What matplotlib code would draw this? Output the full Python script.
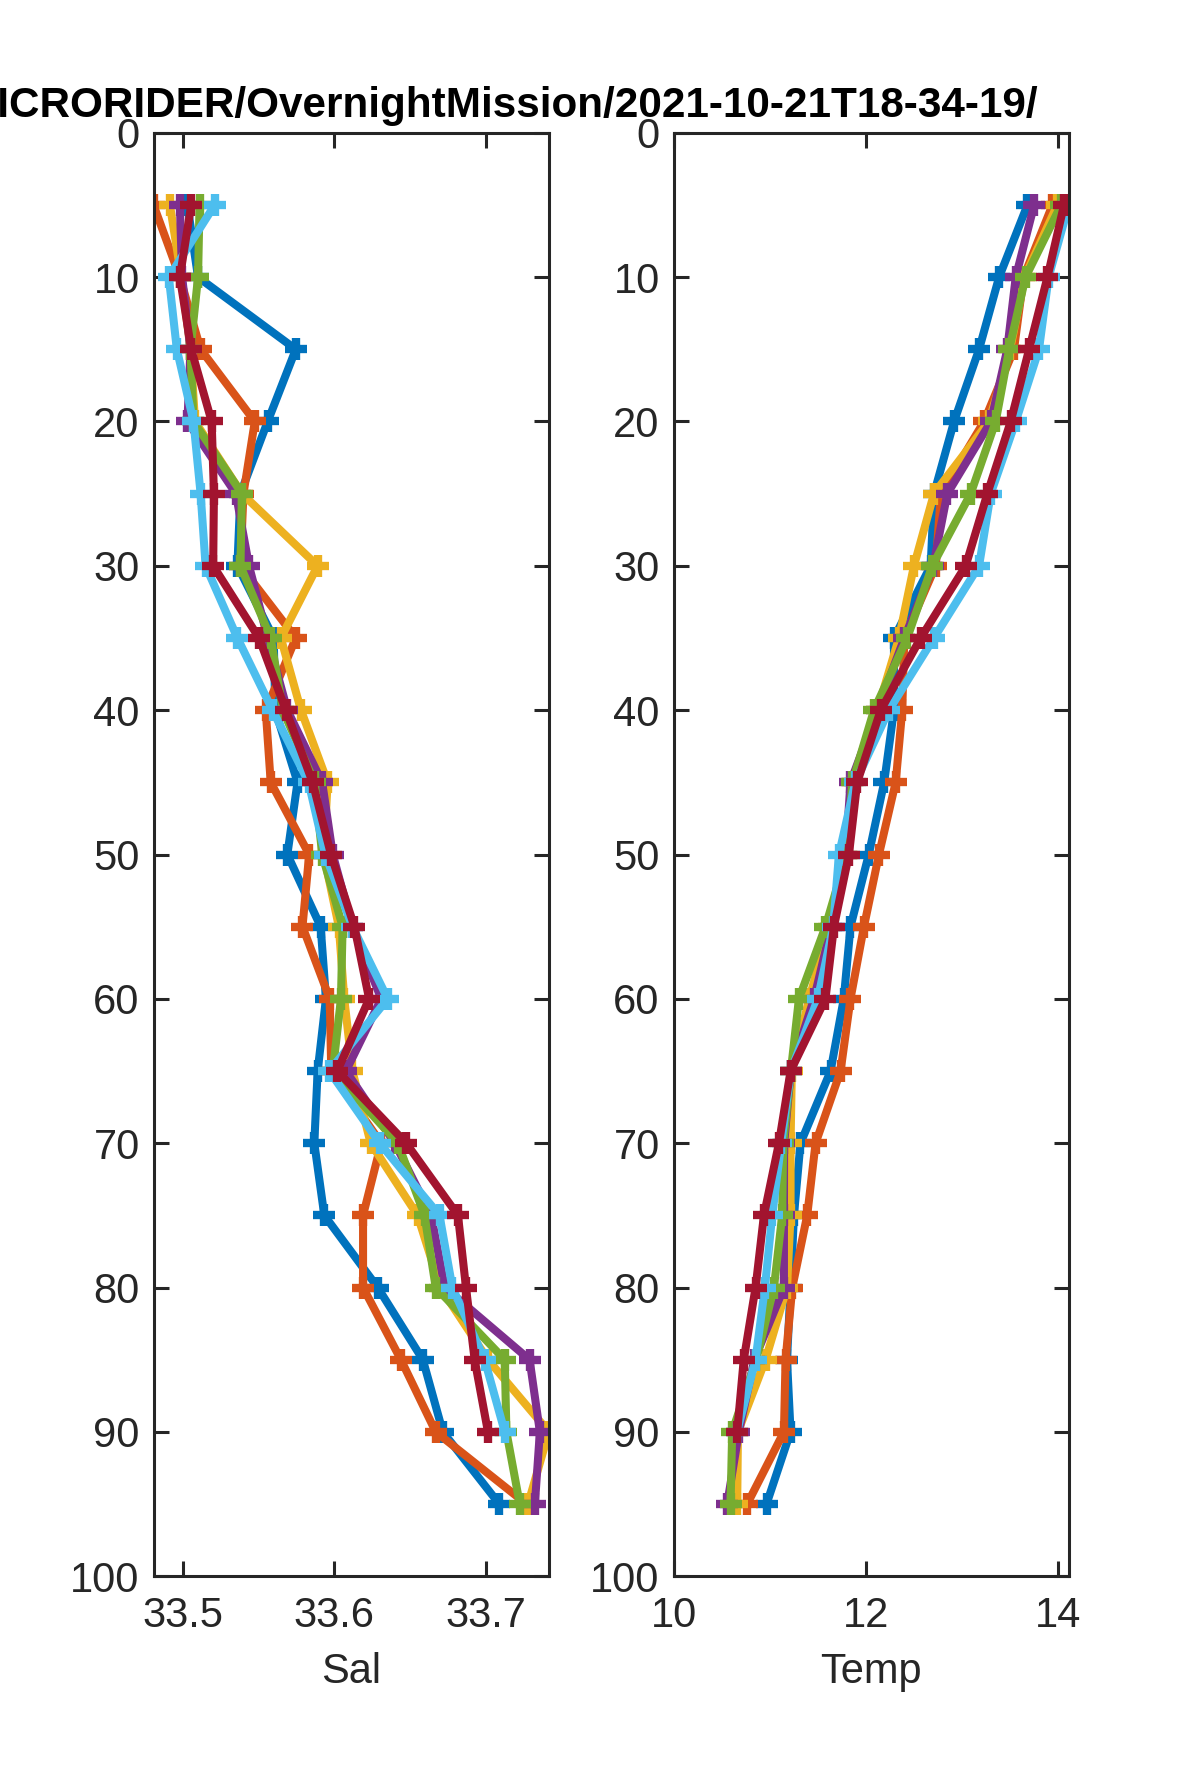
import numpy as np
import matplotlib
matplotlib.use("Agg")
import matplotlib.pyplot as plt

plt.rcParams['font.family'] = ['Liberation Sans', 'DejaVu Sans']

nan = np.nan
depth = [5, 10, 15, 20, 25, 30, 35, 40, 45, 50, 55, 60, 65, 70, 75, 80, 85, 90, 95]

# Salinity profiles (7 casts)
sal_1 = [33.503, 33.510, 33.5746, 33.556, 33.538, 33.536, 33.560, 33.561, 33.5757, 33.569, 33.591, 33.5945, 33.589, 33.5868, 33.5934, 33.6287, 33.6585, 33.6717, 33.709]
sal_2 = [33.4806, 33.498, 33.5117, 33.5475, 33.540, 33.538, 33.5746, 33.5547, 33.558, 33.5834, 33.579, 33.597, 33.598, 33.631, 33.619, 33.619, 33.644, 33.667, 33.727]
sal_3 = [33.4914, 33.499, 33.505, 33.508, 33.539, 33.589, 33.5647, 33.578, 33.5956, 33.593, 33.603, 33.6066, 33.612, 33.624, 33.655, 33.670, 33.7015, 33.7417, 33.728]
sal_4 = [33.498, 33.4995, 33.505, 33.503, 33.535, 33.5437, 33.556, 33.569, 33.592, 33.599, 33.612, 33.631, 33.6077, 33.640, 33.664, 33.673, 33.729, 33.7358, 33.7325]
sal_5 = [33.511, 33.510, 33.505, 33.507, 33.539, 33.538, 33.558, 33.566, 33.587, 33.592, 33.6055, 33.6044, 33.599, 33.642, 33.6596, 33.667, 33.7126, 33.7137, 33.7225]
sal_6 = [33.521, 33.4907, 33.496, 33.507, 33.5117, 33.515, 33.536, 33.5592, 33.583, 33.594, 33.612, 33.6353, 33.5967, 33.630, 33.6695, 33.678, 33.6993, 33.7126, nan]
sal_7 = [33.5055, 33.498, 33.5055, 33.519, 33.5205, 33.520, 33.5503, 33.568, 33.5857, 33.5978, 33.6133, 33.623, 33.602, 33.6475, 33.6817, 33.687, 33.6927, 33.7015, nan]

# Temperature profiles (7 casts)
temp_1 = [13.68, 13.385, 13.177, 12.917, 12.708, 12.674, 12.292, 12.292, 12.19, 12.03, 11.84, 11.77, 11.633, 11.32, 11.252, 11.217, 11.18, 11.217, 10.967]
temp_2 = [13.94, 13.64, 13.54, 13.229, 12.78, 12.726, 12.40, 12.378, 12.31, 12.136, 11.98, 11.84, 11.737, 11.477, 11.39, 11.235, 11.165, 11.148, 10.766]
temp_3 = [13.99, 13.65, 13.50, 13.28, 12.708, 12.50, 12.344, 12.12, 11.87, 11.80, 11.62, 11.41, 11.23, 11.217, 11.217, 11.18, 10.957, 10.67, 10.662]
temp_4 = [13.75, 13.558, 13.47, 13.30, 12.847, 12.70, 12.40, 12.12, 11.84, 11.79, 11.64, 11.46, 11.22, 11.15, 11.148, 11.148, 10.84, 10.68, 10.558]
temp_5 = [14.03, 13.66, 13.49, 13.35, 13.09, 12.69, 12.43, 12.084, 11.86, 11.80, 11.58, 11.304, 11.22, 11.14, 11.13, 11.044, 10.86, 10.61, 10.593]
temp_6 = [14.11, 13.90, 13.80, 13.558, 13.298, 13.177, 12.708, 12.24, 11.89, 11.72, 11.66, 11.50, 11.22, 11.12, 11.026, 10.95, 10.853, 10.66, nan]
temp_7 = [14.06, 13.888, 13.697, 13.506, 13.263, 13.038, 12.57, 12.154, 11.91, 11.824, 11.668, 11.58, 11.217, 11.096, 10.94, 10.853, 10.73, 10.662, nan]

sal_series = [sal_1, sal_2, sal_3, sal_4, sal_5, sal_6, sal_7]
temp_series = [temp_1, temp_2, temp_3, temp_4, temp_5, temp_6, temp_7]

colors = [(0, 0.447, 0.741), (0.850, 0.325, 0.098), (0.929, 0.694, 0.125),
          (0.494, 0.184, 0.556), (0.466, 0.674, 0.188), (0.301, 0.745, 0.933),
          (0.635, 0.078, 0.184)]

title_text = "MICRORIDER/OvernightMission/2021-10-21T18-34-19/"
yticks = [0, 10, 20, 30, 40, 50, 60, 70, 80, 90, 100]
sal_ticks = [33.5, 33.6, 33.7]
temp_ticks = [10, 12, 14]

fig = plt.figure(figsize=(11.81, 17.71), dpi=100)
ax1 = fig.add_axes([0.13, 0.11, 0.3347, 0.815])
ax2 = fig.add_axes([0.5703, 0.11, 0.3347, 0.815])

dark = (0.15, 0.15, 0.15)

def style(ax, xlabel, xticks, xlim):
    ax.set_ylim(100, 0)
    ax.set_xlim(*xlim)
    ax.set_yticks(yticks)
    ax.set_xticks(xticks)
    ax.set_xticklabels([f"{t:g}" for t in xticks])
    ax.tick_params(direction='in', length=11, width=2.2, top=True, right=True,
                   labelsize=30, colors=dark)
    ax.tick_params(axis='x', pad=14)
    ax.tick_params(axis='y', pad=10)
    for s in ax.spines.values():
        s.set_linewidth(2.2)
        s.set_color(dark)
    ax.set_xlabel(xlabel, fontsize=30, color=dark, labelpad=12)

for vals, c in zip(sal_series, colors):
    ax1.plot(vals, depth, color=c, lw=5.8, marker='+', ms=16, mew=6, clip_on=True)
for vals, c in zip(temp_series, colors):
    ax2.plot(vals, depth, color=c, lw=5.8, marker='+', ms=16, mew=6, clip_on=True)

style(ax1, "Sal", sal_ticks, (33.4806, 33.7417))
style(ax2, "Temp", temp_ticks, (10, 14.11))

fig.text(1038 / 1181, 1 - 106 / 1771, title_text, ha='right', va='center',
         fontsize=30.4, fontweight='bold', color='black')

fig.savefig("out.png", dpi=100)
